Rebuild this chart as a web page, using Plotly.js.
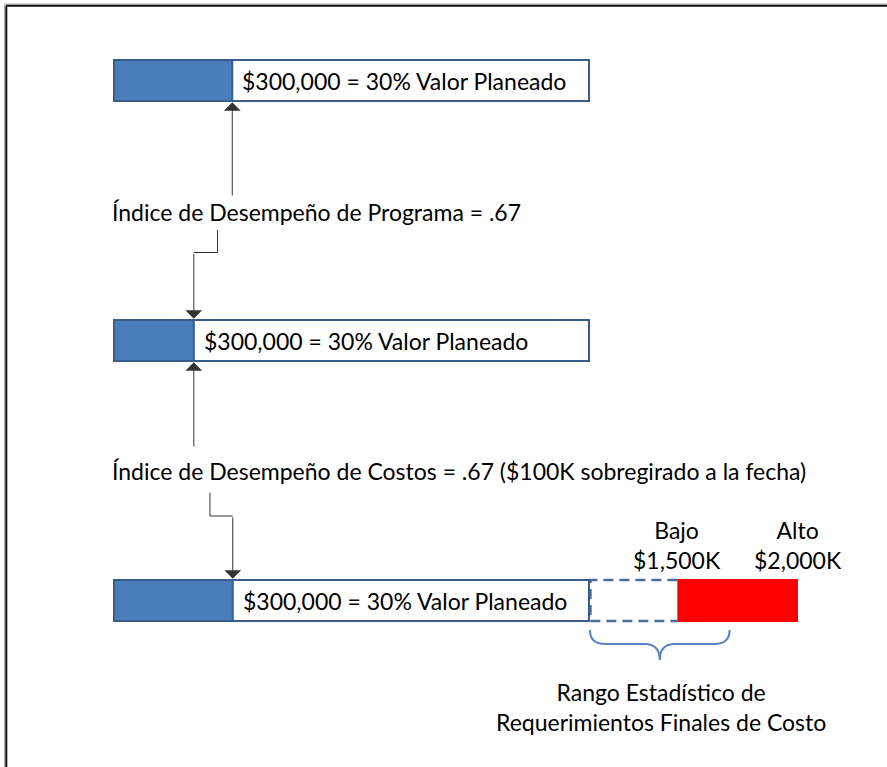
<!DOCTYPE html>
<html>
<head>
<meta charset="utf-8">
<script src="https://cdn.plot.ly/plotly-3.0.1.min.js"></script>
<style>html,body{margin:0;padding:0;background:#fff;}#chart{width:887px;height:767px;}</style>
</head>
<body>
<div id="chart"></div>
<script>
// ---- data (schematic units: planned-value box = 0..100) ----
const rowPositions = [0, 1, 2];
const rowLabels = ['$300,000 = 30% Valor Planeado', '$300,000 = 30% Valor Planeado', '$300,000 = 30% Valor Planeado'];
const plannedValue = [100, 100, 100];
const earnedValue = [24.9, 16.8, 25];
const indexLabels = ['Índice de Desempeño de Programa = .67', 'Índice de Desempeño de Costos = .67 ($100K sobregirado a la fecha)'];
const rangeLabels = ['Bajo<br>$1,500K', 'Alto<br>$2,000K'];
const rangeValues = [118.6, 144];
const braceLabel = 'Rango Estadístico de<br>Requerimientos Finales de Costo';

// ---- styles ----
const FONT = 'Lato, "Open Sans", sans-serif';
const FS = 23;
const BORDER = '#385D8A';
const FILL = '#4A7EBB';
const ARROW = '#333333';
const BW = 0.158; // bar thickness (y units)
const half = BW / 2 + 0.0047;

const traces = [
  { type: 'bar', orientation: 'h', y: rowPositions, x: plannedValue, base: [0, 0, 0], width: BW,
    marker: { color: '#ffffff', line: { color: BORDER, width: 2 } }, hoverinfo: 'skip' },
  { type: 'bar', orientation: 'h', y: rowPositions, x: earnedValue, base: [0, 0, 0], width: BW,
    marker: { color: FILL, line: { color: BORDER, width: 2 } }, hoverinfo: 'skip' },
  { type: 'bar', orientation: 'h', y: [rowPositions[2]], x: [rangeValues[1] - rangeValues[0]], base: [rangeValues[0]], width: BW + 0.008,
    marker: { color: '#FF0000', line: { width: 0 } }, hoverinfo: 'skip' },
  // elbow connector 1 (index text -> row 2)
  { type: 'scatter', mode: 'lines', x: [21.8, 21.8, earnedValue[1]], y: [0.575, 0.6615, 0.6615],
    line: { color: ARROW, width: 1 }, hoverinfo: 'skip' },
  // elbow connector 2 (index text -> row 3)
  { type: 'scatter', mode: 'lines', x: [20.2, 20.2, earnedValue[2]], y: [1.585, 1.675, 1.675],
    line: { color: ARROW, width: 1 }, hoverinfo: 'skip' }
];

function arrow(x, yTip, yTail) {
  return { x: x, y: yTip, ax: x, ay: yTail, xref: 'x', yref: 'y', axref: 'x', ayref: 'y',
    showarrow: true, arrowhead: 1, arrowsize: 2.8, arrowwidth: 1, arrowcolor: ARROW, text: '', standoff: 0 };
}

const annotations = [];
rowPositions.forEach((r, i) => {
  annotations.push({ x: earnedValue[i], y: r, xref: 'x', yref: 'y', xanchor: 'left', yanchor: 'middle', xshift: 8,
    text: rowLabels[i], showarrow: false, font: { family: FONT, size: FS, color: '#000' } });
});
annotations.push({ x: -0.85, y: 0.5058, xref: 'x', yref: 'y', xanchor: 'left', yanchor: 'middle',
  text: indexLabels[0], showarrow: false, font: { family: FONT, size: FS, color: '#000' } });
annotations.push({ x: -0.85, y: 1.502, xref: 'x', yref: 'y', xanchor: 'left', yanchor: 'middle',
  text: indexLabels[1], showarrow: false, font: { family: FONT, size: FS, color: '#000' } });
rangeValues.forEach((v, j) => {
  annotations.push({ x: v, y: 1.7866, xref: 'x', yref: 'y', xanchor: 'center', yanchor: 'middle', align: 'center',
    text: rangeLabels[j], showarrow: false, font: { family: FONT, size: FS, color: '#000' } });
});
annotations.push({ x: 115.1, y: 2.4077, xref: 'x', yref: 'y', xanchor: 'center', yanchor: 'middle', align: 'center',
  text: braceLabel, showarrow: false, font: { family: FONT, size: FS, color: '#000' } });

// arrows
annotations.push(arrow(earnedValue[0], rowPositions[0] + half, 0.448));
annotations.push(arrow(earnedValue[1], rowPositions[1] - half, 0.6615));
annotations.push(arrow(earnedValue[1], rowPositions[1] + half, 1.4135));
annotations.push(arrow(earnedValue[2], rowPositions[2] - half, 1.675));

// brace under dashed range
const bx0 = plannedValue[2] + 0.2, bx1 = 129.6, bxm = (bx0 + bx1) / 2;
const byT = 2.1135, byM = 2.1673, byP = 2.2288, br = 3.2;
const bracePath = `M${bx0},${byT} Q${bx0},${byM} ${bx0 + br},${byM} L${bxm - br},${byM} Q${bxm},${byM} ${bxm},${byP} ` +
  `Q${bxm},${byM} ${bxm + br},${byM} L${bx1 - br},${byM} Q${bx1},${byM} ${bx1},${byT}`;

const dy0 = rowPositions[2] - BW / 2, dy1 = rowPositions[2] + BW / 2;
const dashedPath = `M${rangeValues[0]},${dy0} L${plannedValue[2] + 0.3},${dy0} L${plannedValue[2] + 0.3},${dy1} L${rangeValues[0]},${dy1}`;

const shapes = [
  { type: 'path', xref: 'x', yref: 'y', path: dashedPath, line: { color: '#4A6E9C', width: 2.5, dash: '10px,6px' }, layer: 'below' },
  { type: 'path', xref: 'x', yref: 'y', path: bracePath, line: { color: '#5585C0', width: 2 } },
  // frame
  { type: 'line', xref: 'paper', yref: 'paper', x0: 4.5 / 887, x1: 1, y0: 1 - 4 / 767, y1: 1 - 4 / 767, line: { color: '#aaaaaa', width: 1 } },
  { type: 'line', xref: 'paper', yref: 'paper', x0: 4.5 / 887, x1: 4.5 / 887, y0: 0, y1: 1 - 4 / 767, line: { color: '#aaaaaa', width: 1 } },
  { type: 'line', xref: 'paper', yref: 'paper', x0: 6 / 887, x1: 1, y0: 1 - 5.8 / 767, y1: 1 - 5.8 / 767, line: { color: '#111111', width: 2 } },
  { type: 'line', xref: 'paper', yref: 'paper', x0: 6.3 / 887, x1: 6.3 / 887, y0: 0, y1: 1 - 5.8 / 767, line: { color: '#111111', width: 2 } }
];

const layout = {
  width: 887, height: 767,
  margin: { l: 0, r: 0, t: 0, b: 0, pad: 0 },
  paper_bgcolor: '#ffffff', plot_bgcolor: '#ffffff',
  showlegend: false, hovermode: false, barmode: 'overlay',
  xaxis: { range: [-24, 162.74], visible: false, fixedrange: true },
  yaxis: { range: [2.6404, -0.3096], visible: false, fixedrange: true },
  annotations: annotations,
  shapes: shapes
};

Plotly.newPlot('chart', traces, layout, { displayModeBar: false, staticPlot: true });
</script>
</body>
</html>
